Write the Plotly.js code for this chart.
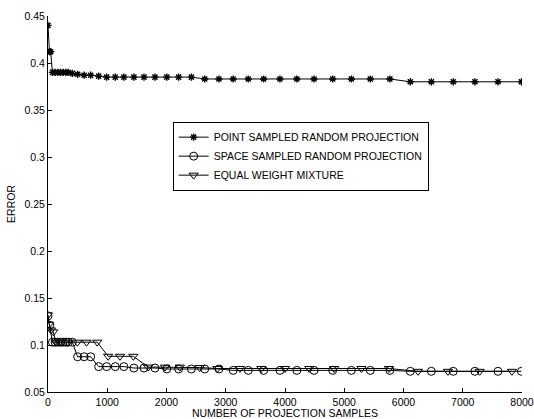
<!DOCTYPE html>
<html>
<head>
<meta charset="utf-8">
<script src="https://cdn.plot.ly/plotly-3.0.1.min.js"></script>
<style>html,body{margin:0;padding:0;background:#fff;} #chart{width:534px;height:419px;}</style>
</head>
<body>
<div id="chart"></div>
<script>
const seriesNames = ["POINT SAMPLED RANDOM PROJECTION", "SPACE SAMPLED RANDOM PROJECTION", "EQUAL WEIGHT MIXTURE"];

const pointX = [0, 25, 45, 75, 120, 165, 210, 255, 300, 340, 410, 500, 610, 720, 855, 990, 1135, 1280, 1450, 1620, 1805, 2005, 2205, 2420, 2645, 2885, 3125, 3380, 3640, 3915, 4200, 4490, 4805, 5120, 5440, 5770, 6115, 6470, 6840, 7205, 7595, 7990];
const pointY = [0.440, 0.412, 0.412, 0.390, 0.390, 0.390, 0.390, 0.390, 0.390, 0.390, 0.389, 0.388, 0.387, 0.387, 0.386, 0.385, 0.385, 0.385, 0.385, 0.385, 0.385, 0.385, 0.385, 0.385, 0.383, 0.383, 0.383, 0.383, 0.383, 0.383, 0.383, 0.383, 0.383, 0.383, 0.383, 0.383, 0.380, 0.380, 0.380, 0.380, 0.380, 0.380];

const spaceX = [0, 30, 75, 120, 165, 210, 255, 300, 340, 410, 500, 610, 720, 855, 990, 1135, 1280, 1450, 1620, 1805, 2005, 2205, 2420, 2645, 2885, 3125, 3380, 3640, 3915, 4200, 4490, 4805, 5120, 5440, 5770, 6115, 6470, 6840, 7205, 7595, 7990];
const spaceY = [0.131, 0.121, 0.103, 0.103, 0.103, 0.103, 0.103, 0.103, 0.103, 0.103, 0.0875, 0.0875, 0.0875, 0.077, 0.077, 0.077, 0.077, 0.0755, 0.0755, 0.0755, 0.0745, 0.0745, 0.0745, 0.0745, 0.0745, 0.073, 0.073, 0.073, 0.073, 0.073, 0.073, 0.073, 0.073, 0.073, 0.073, 0.072, 0.072, 0.072, 0.072, 0.072, 0.072];

const mixX = [0, 20, 50, 90, 130, 215, 340, 495, 650, 830, 1015, 1215, 1440, 1690, 1975, 2225, 2560, 2860, 3240, 3600, 4000, 4410, 4830, 5290, 5755, 6245, 6750, 7285, 7830];
const mixY = [0.132, 0.122, 0.116, 0.114, 0.103, 0.103, 0.103, 0.103, 0.103, 0.103, 0.088, 0.088, 0.088, 0.0765, 0.0765, 0.0765, 0.076, 0.075, 0.075, 0.075, 0.075, 0.075, 0.075, 0.075, 0.075, 0.072, 0.072, 0.072, 0.072];

const xTicks = [0, 1000, 2000, 3000, 4000, 5000, 6000, 7000, 8000];
const yTicks = [0.05, 0.1, 0.15, 0.2, 0.25, 0.3, 0.35, 0.4, 0.45];

const font = {family: "Liberation Sans, Arial, sans-serif", size: 10.5, color: "#000"};

const traces = [
  {x: pointX, y: pointY, name: seriesNames[0], mode: "lines+markers",
   line: {color: "#000", width: 1},
   marker: {symbol: "asterisk-open", size: 6, color: "#000", line: {color: "#000", width: 1.4}}},
  {x: spaceX, y: spaceY, name: seriesNames[1], mode: "lines+markers",
   line: {color: "#000", width: 1},
   marker: {symbol: "circle-open", size: 8, color: "#000", line: {color: "#000", width: 1}}},
  {x: mixX, y: mixY, name: seriesNames[2], mode: "lines+markers",
   line: {color: "#000", width: 1},
   marker: {symbol: "triangle-down-open", size: 8, color: "#000", line: {color: "#000", width: 1}}}
];

const layout = {
  width: 534, height: 419,
  margin: {l: 48, r: 12, t: 16, b: 27, pad: 0},
  paper_bgcolor: "#fff", plot_bgcolor: "#fff",
  font: font,
  showlegend: true,
  legend: {x: 0.263, y: 0.719, xanchor: "left", yanchor: "top",
           bordercolor: "#000", borderwidth: 1, bgcolor: "#fff",
           font: font, tracegroupgap: 0},
  xaxis: {range: [0, 8000], tickvals: xTicks, ticktext: xTicks.map(String),
          ticks: "inside", ticklen: 4, tickcolor: "#000",
          showline: true, linecolor: "#000", linewidth: 1, mirror: false,
          showgrid: false, zeroline: false, tickfont: font,
          title: {text: "NUMBER OF PROJECTION SAMPLES", font: font, standoff: 3}},
  yaxis: {range: [0.05, 0.45], tickvals: yTicks, ticktext: yTicks.map(String),
          ticks: "inside", ticklen: 4, tickcolor: "#000",
          showline: true, linecolor: "#000", linewidth: 1, mirror: false,
          showgrid: false, zeroline: false, tickfont: font,
          title: {text: "ERROR", font: font, standoff: 6}}
};

Plotly.newPlot("chart", traces, layout, {displayModeBar: false, staticPlot: true});
</script>
</body>
</html>
